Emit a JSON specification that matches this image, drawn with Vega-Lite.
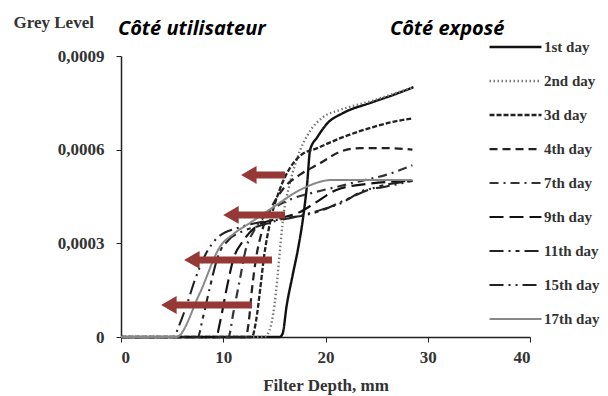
{
  "$schema": "https://vega.github.io/schema/vega-lite/v6.json",
  "width": 409,
  "height": 281,
  "autosize": {"type": "none"},
  "padding": {"left": 121, "top": 56, "right": 78, "bottom": 59},
  "background": "white",
  "config": {
    "view": {"stroke": null},
    "font": "Liberation Serif"
  },
  "datasets": {
    "curves": [
      {"day": "1st day", "x": 0, "y": 0}, {"day": "1st day", "x": 15.5, "y": 0}, {"day": "1st day", "x": 15.8, "y": 0.00001}, {"day": "1st day", "x": 16.2, "y": 0.0001}, {"day": "1st day", "x": 16.8, "y": 0.0002}, {"day": "1st day", "x": 17.3, "y": 0.00028}, {"day": "1st day", "x": 17.8, "y": 0.00038}, {"day": "1st day", "x": 18.2, "y": 0.00049}, {"day": "1st day", "x": 18.5, "y": 0.0006}, {"day": "1st day", "x": 19.2, "y": 0.00064}, {"day": "1st day", "x": 20.2, "y": 0.000685}, {"day": "1st day", "x": 21.7, "y": 0.000717}, {"day": "1st day", "x": 24.4, "y": 0.00075}, {"day": "1st day", "x": 26.6, "y": 0.000775}, {"day": "1st day", "x": 28.6, "y": 0.0008},
      {"day": "2nd day", "x": 0, "y": 0}, {"day": "2nd day", "x": 14, "y": 0}, {"day": "2nd day", "x": 14.5, "y": 0.00002}, {"day": "2nd day", "x": 15.0, "y": 0.0001}, {"day": "2nd day", "x": 15.3, "y": 0.00019}, {"day": "2nd day", "x": 15.55, "y": 0.00028}, {"day": "2nd day", "x": 15.85, "y": 0.00038}, {"day": "2nd day", "x": 16.5, "y": 0.00049}, {"day": "2nd day", "x": 17.2, "y": 0.00057}, {"day": "2nd day", "x": 18.5, "y": 0.00066}, {"day": "2nd day", "x": 19.8, "y": 0.000705}, {"day": "2nd day", "x": 21.4, "y": 0.000727}, {"day": "2nd day", "x": 24.4, "y": 0.000755}, {"day": "2nd day", "x": 26.6, "y": 0.000778}, {"day": "2nd day", "x": 28.6, "y": 0.0008},
      {"day": "3d day", "x": 0, "y": 0}, {"day": "3d day", "x": 12.8, "y": 0}, {"day": "3d day", "x": 13.2, "y": 0.00005}, {"day": "3d day", "x": 13.6, "y": 0.00015}, {"day": "3d day", "x": 14.0, "y": 0.00026}, {"day": "3d day", "x": 14.6, "y": 0.00037}, {"day": "3d day", "x": 15.5, "y": 0.00047}, {"day": "3d day", "x": 16.5, "y": 0.00054}, {"day": "3d day", "x": 17.5, "y": 0.00058}, {"day": "3d day", "x": 19.2, "y": 0.000605}, {"day": "3d day", "x": 21.7, "y": 0.00064}, {"day": "3d day", "x": 24.4, "y": 0.00067}, {"day": "3d day", "x": 26.6, "y": 0.000689}, {"day": "3d day", "x": 28.5, "y": 0.0007},
      {"day": "4th day", "x": 0, "y": 0}, {"day": "4th day", "x": 12.2, "y": 0}, {"day": "4th day", "x": 12.5, "y": 0.00005}, {"day": "4th day", "x": 12.8, "y": 0.00015}, {"day": "4th day", "x": 13.2, "y": 0.00025}, {"day": "4th day", "x": 13.8, "y": 0.00034}, {"day": "4th day", "x": 14.8, "y": 0.00042}, {"day": "4th day", "x": 16, "y": 0.00048}, {"day": "4th day", "x": 17.5, "y": 0.00052}, {"day": "4th day", "x": 19.5, "y": 0.000557}, {"day": "4th day", "x": 21.4, "y": 0.000593}, {"day": "4th day", "x": 23.4, "y": 0.000605}, {"day": "4th day", "x": 26, "y": 0.000605}, {"day": "4th day", "x": 28.5, "y": 0.0006},
      {"day": "7th day", "x": 0, "y": 0}, {"day": "7th day", "x": 10.5, "y": 0}, {"day": "7th day", "x": 11, "y": 0.00008}, {"day": "7th day", "x": 11.6, "y": 0.00018}, {"day": "7th day", "x": 12.2, "y": 0.00028}, {"day": "7th day", "x": 13, "y": 0.00034}, {"day": "7th day", "x": 14.5, "y": 0.0004}, {"day": "7th day", "x": 16.5, "y": 0.00044}, {"day": "7th day", "x": 18.5, "y": 0.00046}, {"day": "7th day", "x": 21, "y": 0.00048}, {"day": "7th day", "x": 23.5, "y": 0.0005}, {"day": "7th day", "x": 26, "y": 0.00052}, {"day": "7th day", "x": 28.5, "y": 0.00055},
      {"day": "9th day", "x": 0, "y": 0}, {"day": "9th day", "x": 9.3, "y": 0}, {"day": "9th day", "x": 9.7, "y": 0.00005}, {"day": "9th day", "x": 10.3, "y": 0.00015}, {"day": "9th day", "x": 11, "y": 0.00025}, {"day": "9th day", "x": 12, "y": 0.00031}, {"day": "9th day", "x": 13.5, "y": 0.00036}, {"day": "9th day", "x": 15.5, "y": 0.00038}, {"day": "9th day", "x": 17.5, "y": 0.0004}, {"day": "9th day", "x": 19, "y": 0.00043}, {"day": "9th day", "x": 21, "y": 0.00047}, {"day": "9th day", "x": 24, "y": 0.00049}, {"day": "9th day", "x": 28.5, "y": 0.0005},
      {"day": "11th day", "x": 0, "y": 0}, {"day": "11th day", "x": 7.5, "y": 0}, {"day": "11th day", "x": 8, "y": 0.00006}, {"day": "11th day", "x": 8.7, "y": 0.00016}, {"day": "11th day", "x": 9.5, "y": 0.00026}, {"day": "11th day", "x": 10.5, "y": 0.00031}, {"day": "11th day", "x": 12, "y": 0.00034}, {"day": "11th day", "x": 14, "y": 0.00036}, {"day": "11th day", "x": 16, "y": 0.00038}, {"day": "11th day", "x": 18, "y": 0.00039}, {"day": "11th day", "x": 20, "y": 0.00041}, {"day": "11th day", "x": 22, "y": 0.00044}, {"day": "11th day", "x": 25, "y": 0.00048}, {"day": "11th day", "x": 28.5, "y": 0.0005},
      {"day": "15th day", "x": 0, "y": 0}, {"day": "15th day", "x": 5.2, "y": 0}, {"day": "15th day", "x": 5.6, "y": 0.00003}, {"day": "15th day", "x": 6.4, "y": 0.0001}, {"day": "15th day", "x": 7.2, "y": 0.00018}, {"day": "15th day", "x": 8.2, "y": 0.00026}, {"day": "15th day", "x": 9.5, "y": 0.00032}, {"day": "15th day", "x": 11.5, "y": 0.00035}, {"day": "15th day", "x": 14, "y": 0.00037}, {"day": "15th day", "x": 16.5, "y": 0.00038}, {"day": "15th day", "x": 18.8, "y": 0.0004}, {"day": "15th day", "x": 21.6, "y": 0.00043}, {"day": "15th day", "x": 23.8, "y": 0.00047}, {"day": "15th day", "x": 25.6, "y": 0.00048}, {"day": "15th day", "x": 28.5, "y": 0.0005},
      {"day": "17th day", "x": 0, "y": 0}, {"day": "17th day", "x": 5.4, "y": 0}, {"day": "17th day", "x": 7.7, "y": 0.00014}, {"day": "17th day", "x": 9.7, "y": 0.00029}, {"day": "17th day", "x": 11, "y": 0.00033}, {"day": "17th day", "x": 12.6, "y": 0.000365}, {"day": "17th day", "x": 14.9, "y": 0.000416}, {"day": "17th day", "x": 17.5, "y": 0.000471}, {"day": "17th day", "x": 20.7, "y": 0.000503}, {"day": "17th day", "x": 28.5, "y": 0.000503}
    ],
    "arrows": [
      {"tail": 16.04, "head": 12.5, "y": 0.000519},
      {"tail": 16.04, "head": 10.75, "y": 0.000391},
      {"tail": 14.77, "head": 6.93, "y": 0.000247},
      {"tail": 12.81, "head": 4.68, "y": 0.0001025}
    ],
    "notes": [
      {"label": "Côté utilisateur", "x": -0.3, "y": 0.000985},
      {"label": "Côté exposé", "x": 26.3, "y": 0.000985}
    ]
  },
  "layer": [
    {
      "data": {"name": "curves"},
      "mark": {"type": "line", "interpolate": "monotone"},
      "encoding": {
        "x": {
          "field": "x", "type": "quantitative",
          "scale": {"domain": [0, 40], "nice": false},
          "axis": {
            "values": [0, 10, 20, 30, 40], "grid": false,
            "domainColor": "#222", "domainWidth": 1.5, "tickColor": "#222", "tickSize": 5,
            "labelFont": "Liberation Serif", "labelFontWeight": "bold", "labelFontSize": 17, "labelColor": "#333", "labelPadding": 7,
            "title": "Filter Depth,  mm", "titleFont": "Liberation Serif", "titleFontWeight": "bold", "titleFontSize": 17, "titleColor": "#333", "titlePadding": 12
          }
        },
        "y": {
          "field": "y", "type": "quantitative",
          "scale": {"domain": [0, 0.0009], "nice": false},
          "axis": {
            "values": [0, 0.0003, 0.0006, 0.0009], "grid": false,
            "labelExpr": "datum.value == 0 ? '0' : replace(format(datum.value, '.4f'), '.', ',')",
            "domainColor": "#222", "domainWidth": 1.5, "tickColor": "#222", "tickSize": 5,
            "labelFont": "Liberation Serif", "labelFontWeight": "bold", "labelFontSize": 17, "labelColor": "#333", "labelPadding": 12,
            "title": "Grey Level", "titleAngle": 0, "titleAlign": "left", "titleBaseline": "middle",
            "titleX": -108, "titleY": -34,
            "titleFont": "Liberation Serif", "titleFontWeight": "bold", "titleFontSize": 17, "titleColor": "#333"
          }
        },
        "detail": {"field": "day"},
        "color": {
          "field": "day", "type": "nominal",
          "scale": {
            "domain": ["1st day", "2nd day", "3d day", "4th day", "7th day", "9th day", "11th day", "15th day", "17th day"],
            "range": ["#111", "#777", "#222", "#222", "#333", "#111", "#222", "#222", "#888"]
          },
          "legend": {
            "orient": "none", "legendX": 367, "legendY": -17, "title": null,
            "symbolType": "stroke", "symbolSize": 2700, "clipHeight": 16, "rowPadding": 18,
            "labelFont": "Liberation Serif", "labelFontWeight": "bold", "labelFontSize": 15, "labelColor": "#333", "labelOffset": 1
          }
        },
        "strokeDash": {
          "field": "day", "type": "nominal",
          "scale": {
            "domain": ["1st day", "2nd day", "3d day", "4th day", "7th day", "9th day", "11th day", "15th day", "17th day"],
            "range": [[1, 0], [1.5, 2.5], [5, 2], [8, 5], [9, 5, 2, 5], [14, 6], [14, 5, 2, 5, 4, 5], [14, 5, 2, 5, 2, 5], [1, 0]]
          },
          "legend": null
        },
        "strokeWidth": {
          "field": "day", "type": "nominal",
          "scale": {
            "domain": ["1st day", "2nd day", "3d day", "4th day", "7th day", "9th day", "11th day", "15th day", "17th day"],
            "range": [2.4, 2, 2.2, 2.2, 2, 2.6, 2.2, 2.2, 1.1]
          },
          "legend": null
        }
      }
    },
    {
      "data": {"name": "arrows"},
      "mark": {"type": "rule", "color": "#963835", "strokeWidth": 7},
      "encoding": {
        "x": {"field": "tail", "type": "quantitative"},
        "x2": {"field": "head"},
        "y": {"field": "y", "type": "quantitative"}
      }
    },
    {
      "data": {"name": "arrows"},
      "mark": {"type": "point", "shape": "triangle-left", "filled": true, "color": "#963835", "size": 320, "opacity": 1},
      "encoding": {
        "x": {"field": "head", "type": "quantitative"},
        "y": {"field": "y", "type": "quantitative"}
      }
    },
    {
      "data": {"name": "notes"},
      "mark": {"type": "text", "align": "left", "baseline": "middle", "font": "Open Sans", "fontStyle": "italic", "fontWeight": "bold", "fontSize": 20, "color": "#000"},
      "encoding": {
        "x": {"field": "x", "type": "quantitative"},
        "y": {"field": "y", "type": "quantitative"},
        "text": {"field": "label"}
      }
    }
  ]
}
